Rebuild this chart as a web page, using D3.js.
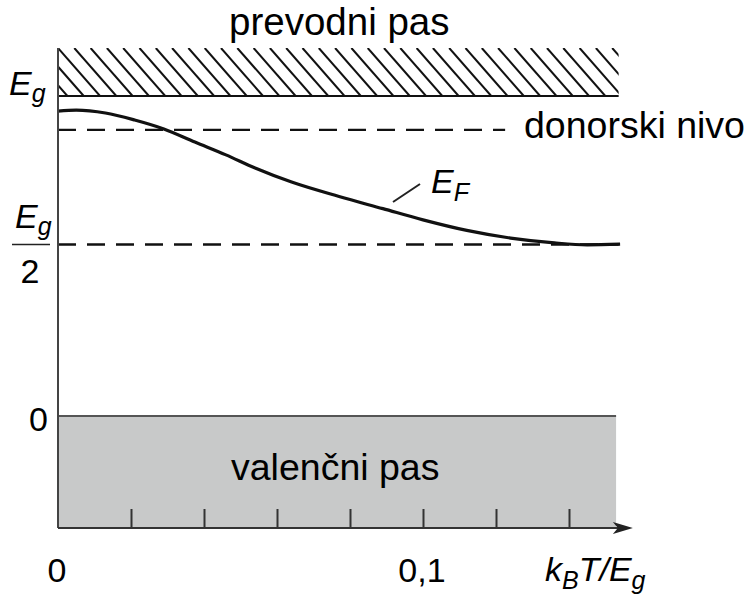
<!DOCTYPE html>
<html><head><meta charset="utf-8">
<script src="https://cdn.jsdelivr.net/npm/d3@7"></script>
<style>
body{margin:0;background:#fff;}
svg{display:block;font-family:"Liberation Sans",Arial,sans-serif;}
</style></head>
<body><svg id="c" width="745" height="594"></svg>
<script>
// ---- data (energies in units of Eg, x in kBT/Eg) ----
const curveX = [0, 0.005, 0.013, 0.021, 0.029, 0.0375, 0.046, 0.054, 0.064, 0.077, 0.089, 0.100, 0.112, 0.124, 0.136, 0.145, 0.154];
const curveE = [0.953, 0.956, 0.947, 0.925, 0.897, 0.856, 0.816, 0.775, 0.731, 0.686, 0.648, 0.613, 0.580, 0.556, 0.541, 0.535, 0.537];
const donorLevel = 0.894;
const midLevel = 0.536;
const conductionTop = 1.15;
const valenceBottom = -0.35;
const xTicks = [0.02, 0.04, 0.06, 0.08, 0.10, 0.12, 0.14];
const xLabelVals = [0, 0.1];
const xLabelText = ["0", "0,1"];
const xMax = 0.1575, bandEnd = 0.1529, hatchEnd = 0.1536, donorEnd = 0.1225;

const svg = d3.select("#c");
const x = d3.scaleLinear().domain([0, 0.1]).range([58, 423]);
const y = d3.scaleLinear().domain([0, 1]).range([416, 96]);

// valence band (gray)
svg.append("rect").attr("x", x(0)).attr("y", y(0))
  .attr("width", x(bandEnd) - x(0)).attr("height", y(valenceBottom) - y(0))
  .attr("fill", "#c8c9c9");
svg.append("line").attr("x1", x(0)).attr("x2", x(bandEnd)).attr("y1", y(0)).attr("y2", y(0))
  .attr("stroke", "#555").attr("stroke-width", 2);

// conduction band (hatched)
const hx0 = x(0), hx1 = x(hatchEnd), hy0 = y(conductionTop), hy1 = y(1);
svg.append("clipPath").attr("id", "hc").append("rect")
  .attr("x", hx0).attr("y", hy0).attr("width", hx1 - hx0).attr("height", hy1 - hy0);
const step = 16.3, slant = 42;
const starts = d3.range(hx0 - 4 * step, hx1 + step, step);
svg.append("g").attr("clip-path", "url(#hc)").selectAll("line").data(starts).join("line")
  .attr("x1", d => d).attr("y1", hy0).attr("x2", d => d + slant).attr("y2", hy1)
  .attr("stroke", "#111").attr("stroke-width", 2);
svg.append("line").attr("x1", hx0).attr("x2", hx1).attr("y1", hy1).attr("y2", hy1)
  .attr("stroke", "#111").attr("stroke-width", 2);

// dashed levels
svg.append("line").attr("x1", x(0)).attr("x2", x(donorEnd)).attr("y1", y(donorLevel)).attr("y2", y(donorLevel))
  .attr("stroke", "#111").attr("stroke-width", 2.4).attr("stroke-dasharray", "18,11");
svg.append("line").attr("x1", x(0)).attr("x2", x(hatchEnd)).attr("y1", y(midLevel)).attr("y2", y(midLevel))
  .attr("stroke", "#111").attr("stroke-width", 2.4).attr("stroke-dasharray", "18,11");

// Fermi level curve
const line = d3.line().x(d => x(d[0])).y(d => y(d[1])).curve(d3.curveMonotoneX);
svg.append("path").datum(curveX.map((v, i) => [v, curveE[i]])).attr("d", line)
  .attr("fill", "none").attr("stroke", "#111").attr("stroke-width", 3.2);

// axes
svg.append("line").attr("x1", x(0)).attr("x2", x(0)).attr("y1", y(conductionTop)).attr("y2", y(valenceBottom))
  .attr("stroke", "#444").attr("stroke-width", 2);
const axisG = svg.append("g").attr("transform", `translate(0,${y(valenceBottom)})`)
  .call(d3.axisBottom(x).tickValues(xTicks).tickSize(-19).tickFormat(""));
axisG.select(".domain").remove();
axisG.selectAll(".tick line").attr("stroke", "#333").attr("stroke-width", 2);
const ay = y(valenceBottom);
svg.append("line").attr("x1", x(0)).attr("x2", x(xMax) - 12).attr("y1", ay).attr("y2", ay)
  .attr("stroke", "#333").attr("stroke-width", 2);
svg.append("path").attr("d", `M${x(xMax)},${ay} L${x(xMax) - 20},${ay - 6} L${x(xMax) - 15},${ay} L${x(xMax) - 20},${ay + 6} Z`)
  .attr("fill", "#222");

// x labels
svg.selectAll("text.xl").data(xLabelVals).join("text").attr("class", "xl")
  .attr("x", d => x(d) - 1).attr("y", 582).attr("text-anchor", "middle")
  .attr("font-size", 34).attr("fill", "#000").text((d, i) => xLabelText[i]);
const xt = svg.append("text").attr("x", 545).attr("y", 581).attr("font-size", 34).attr("font-style", "italic");
xt.append("tspan").text("k");
xt.append("tspan").attr("font-size", 25).attr("dy", 8).text("B");
xt.append("tspan").attr("dy", -8).text("T/E");
xt.append("tspan").attr("font-size", 25).attr("dy", 8).text("g");

// y labels
const eg = svg.append("text").attr("x", 9).attr("y", 95).attr("font-size", 34).attr("font-style", "italic");
eg.append("tspan").text("E");
eg.append("tspan").attr("font-size", 25).attr("dy", 7).text("g");
const eg2 = svg.append("text").attr("x", 15).attr("y", 228).attr("font-size", 34).attr("font-style", "italic");
eg2.append("tspan").text("E");
eg2.append("tspan").attr("font-size", 25).attr("dy", 7).text("g");
svg.append("line").attr("x1", 12).attr("x2", 50).attr("y1", y(midLevel)).attr("y2", y(midLevel))
  .attr("stroke", "#222").attr("stroke-width", 1.5);
svg.append("text").attr("x", 30).attr("y", 283).attr("text-anchor", "middle").attr("font-size", 34).text("2");
svg.append("text").attr("x", 48).attr("y", y(0) + 15).attr("text-anchor", "end").attr("font-size", 34).text("0");

// band labels
svg.append("text").attr("x", 229).attr("y", 35).attr("font-size", 38.5).text("prevodni pas");
svg.append("text").attr("x", 524).attr("y", 138).attr("font-size", 37.5).text("donorski nivo");
svg.append("text").attr("x", 231).attr("y", 480).attr("font-size", 37.5).text("valenčni pas");

// E_F label and leader
svg.append("line").attr("x1", 393).attr("y1", 202).attr("x2", 420).attr("y2", 184)
  .attr("stroke", "#222").attr("stroke-width", 2);
const ef = svg.append("text").attr("x", 431).attr("y", 193).attr("font-size", 34).attr("font-style", "italic");
ef.append("tspan").text("E");
ef.append("tspan").attr("font-size", 25).attr("dy", 8).text("F");
</script></body></html>
